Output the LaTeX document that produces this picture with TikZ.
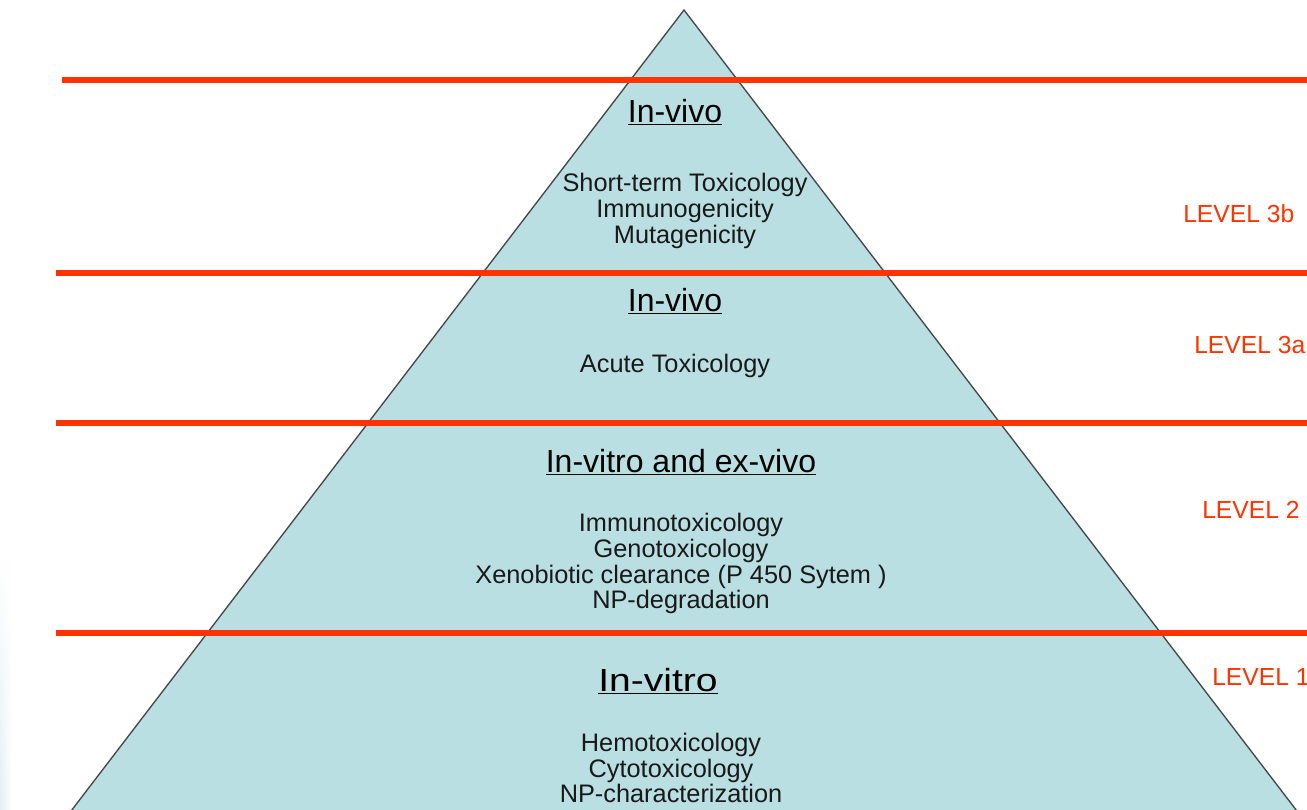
\documentclass[tikz,border=0pt]{standalone}
\usepackage{fontspec}
\setmainfont{Liberation Sans}
\usetikzlibrary{fadings}
\definecolor{pyrfill}{RGB}{186,223,227}
\definecolor{pyredge}{RGB}{70,70,70}
\definecolor{levred}{RGB}{255,51,0}
\definecolor{bodytext}{RGB}{25,25,25}
\definecolor{edgeglow}{RGB}{226,240,243}
\tikzset{
  redline/.style={draw=levred, line width=4.5pt},
  heading/.style={anchor=base, inner sep=0pt, font=\fontsize{24}{28}\selectfont, text=black},
  bodyline/.style={anchor=base, inner sep=0pt, font=\fontsize{19}{23}\selectfont, text=bodytext},
  levellabel/.style={anchor=base west, inner sep=0pt, font=\fontsize{18.5}{22}\selectfont, text=levred},
}
\begin{document}
\begin{tikzpicture}[x=0.75pt, y=-0.75pt]
\useasboundingbox (0,0) rectangle (1307,810);
\clip (0,0) rectangle (1307,810);
\fill[white] (0,0) rectangle (1307,810);
% faint left-edge glow
\shade[left color=edgeglow, right color=white, path fading=north] (0,560) rectangle (12,810);
% pyramid
\coordinate (apex) at (684,10);
\coordinate (bl) at (68,815);
\coordinate (br) at (1300,815);
\filldraw[fill=pyrfill, draw=pyredge, line width=1pt] (bl) -- (apex) -- (br) -- cycle;
% level separators
\coordinate (l1a) at (62,80);  \coordinate (l1b) at (1310,80);
\coordinate (l2a) at (56,273); \coordinate (l2b) at (1310,273);
\coordinate (l3a) at (56,423); \coordinate (l3b) at (1310,423);
\coordinate (l4a) at (56,633); \coordinate (l4b) at (1310,633);
\draw[redline] (l1a) -- (l1b);
\draw[redline] (l2a) -- (l2b);
\draw[redline] (l3a) -- (l3b);
\draw[redline] (l4a) -- (l4b);
% level 3b
\node[heading] (h3b) at (675,122) {\underline{In-vivo}};
\node[bodyline] (b3b1) at (685,191) {Short-term Toxicology};
\node[bodyline] (b3b2) at (685,217) {Immunogenicity};
\node[bodyline] (b3b3) at (685,243) {Mutagenicity};
% level 3a
\node[heading] (h3a) at (675,311) {\underline{In-vivo}};
\node[bodyline] (b3a1) at (675,372) {Acute Toxicology};
% level 2
\node[heading] (h2) at (681,472) {\underline{In-vitro and ex-vivo}};
\node[bodyline] (b21) at (681,531) {Immunotoxicology};
\node[bodyline] (b22) at (681,557) {Genotoxicology};
\node[bodyline] (b23) at (681,583) {Xenobiotic clearance (P 450 Sytem )};
\node[bodyline] (b24) at (681,608) {NP-degradation};
% level 1
\begin{scope}[shift={(658,691)}]
\node[heading, xscale=1.22, transform shape] (h1) at (0,0) {\underline{In-vitro}};
\end{scope}
\node[bodyline] (b11) at (671,751) {Hemotoxicology};
\node[bodyline] (b12) at (671,777) {Cytotoxicology};
\node[bodyline] (b13) at (671,802) {NP-characterization};
% level labels
\node[levellabel] (lv3b) at (1183,222) {LEVEL 3b};
\node[levellabel] (lv3a) at (1194,353) {LEVEL 3a};
\node[levellabel] (lv2) at (1202,518) {LEVEL 2};
\node[levellabel] (lv1) at (1212,685) {LEVEL 1};
\end{tikzpicture}
\end{document}
